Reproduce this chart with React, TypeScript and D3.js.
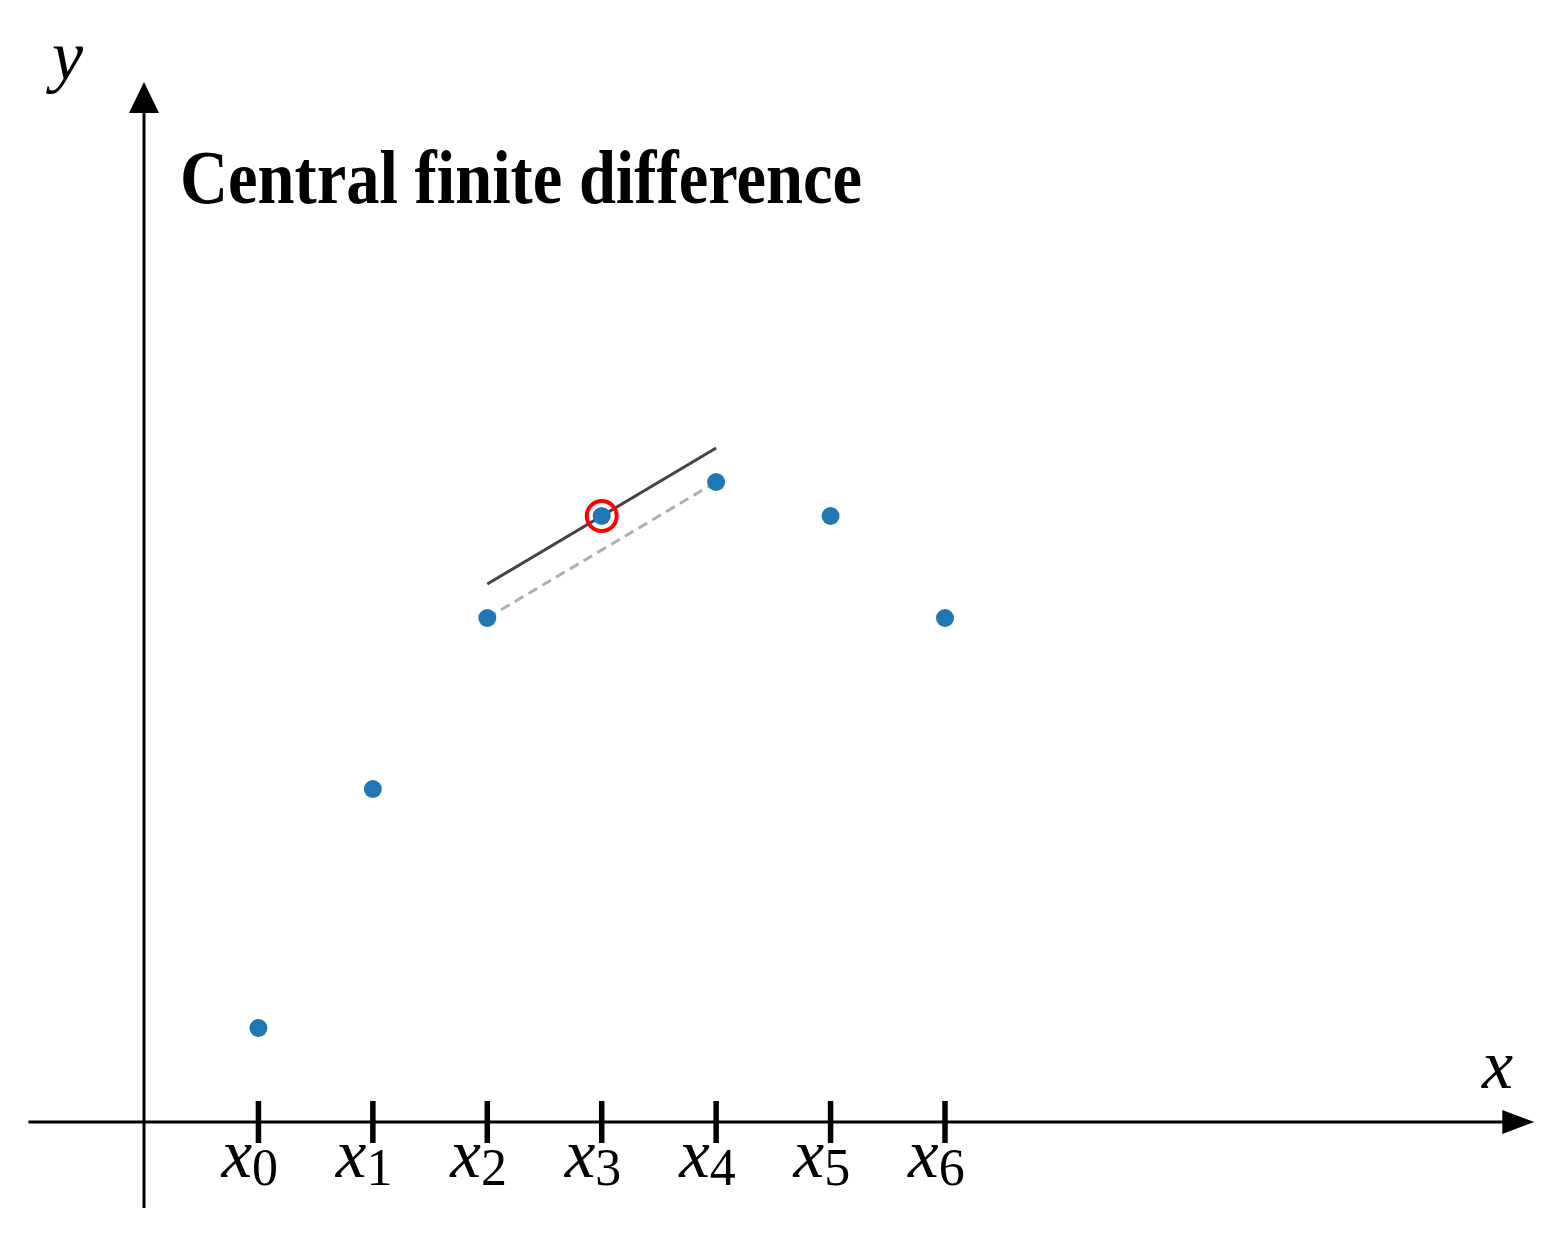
import React from "react";
import * as d3 from "d3";

const xIndex = [0, 1, 2, 3, 4, 5, 6];
const yValues = [0.94, 3.33, 5.04, 6.06, 6.4, 6.06, 5.04];
const tickLabels = ["0", "1", "2", "3", "4", "5", "6"];
const focusIndex = 3;
const titleText = "Central finite difference";

const W = 1560;
const H = 1237;

export default function App() {
  const x = d3.scaleLinear().domain([-1, 6]).range([144, 945]);
  const y = d3.scaleLinear().domain([0, 6.4]).range([1122, 482]);

  const ax0 = x(-2.01);
  const axArrow = x(11.15);
  const ayBottom = y(-0.86);
  const ayTip = y(10.4);

  const i = focusIndex;
  const slope = (yValues[i + 1] - yValues[i - 1]) / (xIndex[i + 1] - xIndex[i - 1]);
  const tanLine = d3.line<number>()
    .x((d) => x(d))
    .y((d) => y(yValues[i] + slope * (d - xIndex[i])));
  const secant = d3.line<number>()
    .x((d) => x(d))
    .y((d) => y(yValues[d]));

  const serif = "'Liberation Serif', 'Times New Roman', serif";

  return (
    <div style={{ position: "absolute", left: 0, top: 0 }}>
      <svg width={W} height={H} style={{ display: "block", background: "#fff" }}>
        {/* x axis */}
        <line x1={ax0} x2={axArrow - 30} y1={y(0)} y2={y(0)} stroke="#000" strokeWidth={3} />
        <path d={`M${axArrow},${y(0)} L${axArrow - 32},${y(0) - 12} L${axArrow - 32},${y(0) + 12} Z`} fill="#000" />
        {/* y axis */}
        <line x1={x(-1)} x2={x(-1)} y1={ayBottom} y2={ayTip + 30} stroke="#000" strokeWidth={3} />
        <path d={`M${x(-1)},${ayTip} L${x(-1) - 15},${ayTip + 31} L${x(-1) + 15},${ayTip + 31} Z`} fill="#000" />

        {/* ticks */}
        {xIndex.map((d) => (
          <line key={"t" + d} x1={x(d)} x2={x(d)} y1={y(0) - 21} y2={y(0) + 21} stroke="#000" strokeWidth={5.5} />
        ))}
        {xIndex.map((d, k) => (
          <text key={"l" + d} x={x(d) - 37} y={1177} fontFamily={serif} fontSize={69}>
            <tspan fontStyle="italic">x</tspan>
            <tspan fontSize={52} dy={8}>{tickLabels[k]}</tspan>
          </text>
        ))}

        {/* secant */}
        <path d={secant([i - 1, i + 1]) || ""} fill="none" stroke="#b0b0b0" strokeWidth={3} strokeDasharray="10,6" />
        {/* tangent */}
        <path d={tanLine([xIndex[i - 1], xIndex[i + 1]]) || ""} fill="none" stroke="#444" strokeWidth={3} />

        {/* points */}
        {xIndex.map((d, k) => (
          <circle key={"p" + d} cx={x(d)} cy={y(yValues[k])} r={9} fill="#1f77b4" />
        ))}
        <circle cx={x(i)} cy={y(yValues[i])} r={15} fill="none" stroke="#ff0000" strokeWidth={4} />

        {/* title */}
        <text x={180} y={203} fontFamily={serif} fontWeight="bold" fontSize={76}
          textLength={682} lengthAdjust="spacingAndGlyphs">{titleText}</text>

        {/* axis labels */}
        <text x={1482} y={1088} fontFamily={serif} fontStyle="italic" fontSize={70}>x</text>
        <text x={52} y={79} fontFamily={serif} fontStyle="italic" fontSize={70}>y</text>
      </svg>
    </div>
  );
}
